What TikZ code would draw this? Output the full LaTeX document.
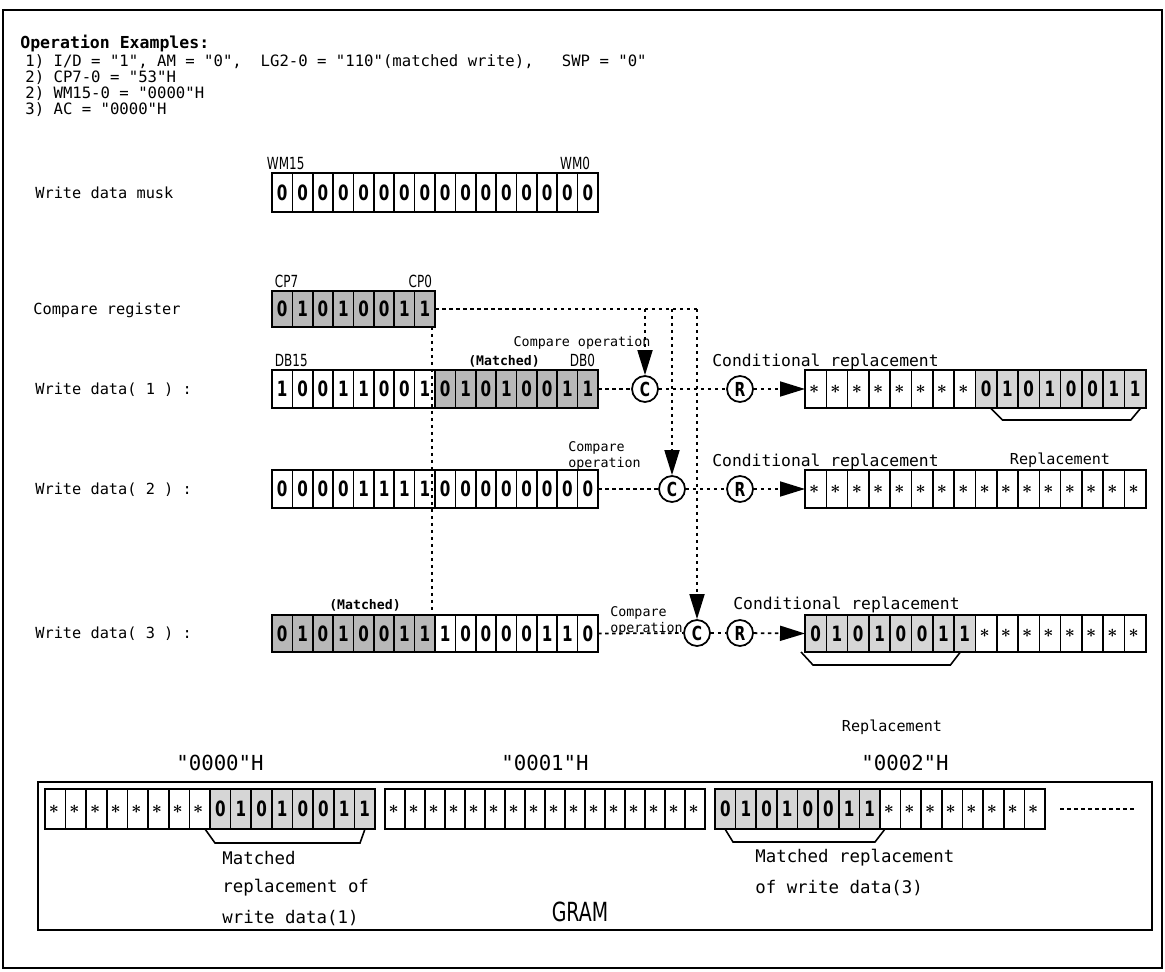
\documentclass[tikz,border=0pt]{standalone}
\usepackage{amsmath}
\usepackage{fontspec}
\setmonofont{DejaVu Sans Mono}
\newfontfamily\narrowfont{DejaVu Sans}[FakeStretch=0.72]
\usetikzlibrary{arrows.meta}
\colorlet{hatch}{black!28}
\colorlet{hatchlt}{black!16}
\newcommand{\astx}{\makebox[0.26cm][l]{\fontsize{10}{10}\selectfont$\boldsymbol{\ast}$}}
% one register row: name, x, y (top), cell width, cell height, bit/fill list
\newcommand{\regrow}[6]{%
  \foreach \bv/\fl [count=\k] in {#6}
    \node[cell,minimum width=#4*0.02cm,minimum height=#5*0.02cm,fill=\fl]
      (#1-\k) at ({#2+(\k-1)*#4},#3) {\bv};%
}
\tikzset{
  >={Triangle[length=0.5cm,width=0.3cm]},
  cell/.style={draw,line width=0.9pt,inner sep=0pt,outer sep=0pt,
    anchor=north west,font=\narrowfont\bfseries\fontsize{12}{12}\selectfont},
  frame/.style={line width=1.1pt},
  dotline/.style={line width=1pt,dash pattern=on 0.07cm off 0.07cm},
  opcirc/.style={circle,draw,line width=1pt,minimum size=0.52cm,inner sep=0pt,
    fill=white,font=\narrowfont\bfseries\fontsize{11}{11}\selectfont},
  titletxt/.style={anchor=west,inner sep=0pt,
    font=\ttfamily\bfseries\fontsize{9.4}{11}\selectfont},
  paramtxt/.style={anchor=west,inner sep=0pt,font=\ttfamily\fontsize{8.9}{11}\selectfont},
  rowlbl/.style={anchor=west,inner sep=0pt,font=\ttfamily\fontsize{8.7}{10}\selectfont},
  optxt/.style={inner sep=0pt,font=\ttfamily\fontsize{7.6}{9}\selectfont},
  condtxt/.style={anchor=west,inner sep=0pt,font=\ttfamily\fontsize{9.3}{11}\selectfont},
  repltxt/.style={inner sep=0pt,font=\ttfamily\fontsize{8.6}{10}\selectfont},
  matchtxt/.style={inner sep=0pt,font=\ttfamily\bfseries\fontsize{7.5}{9}\selectfont},
  bitlbl/.style={inner sep=1.5pt,font=\narrowfont\fontsize{9.5}{10}\selectfont},
  adrtxt/.style={inner sep=0pt,font=\ttfamily\fontsize{11.8}{13}\selectfont},
  notetxt/.style={anchor=west,inner sep=0pt,font=\ttfamily\fontsize{9.9}{12}\selectfont},
  gramtxt/.style={inner sep=0pt,font=\narrowfont\fontsize{15}{16}\selectfont},
  brk/.style={line width=0.9pt},
}
\begin{document}
\begin{tikzpicture}[x=0.02cm,y=-0.02cm]
  \useasboundingbox (0,0) rectangle (1165,972);
  \draw[frame] (3,10) rectangle (1162,968);

  % header
  \node[titletxt] (title) at (20,44) {Operation Examples:};
  \foreach \k/\lbl in {1/{1) I/D = "1", AM = "0",\ \ LG2-0 = "110"(matched write),\ \ \ SWP = "0"},
                       2/{2) CP7-0 = "53"H},
                       3/{2) WM15-0 = "0000"H},
                       4/{3) AC = "0000"H}}
    \node[paramtxt] (par\k) at (25,{46+16*\k}) {\lbl};

  % registers
  \regrow{wm}{272}{173}{20.375}{39}{0/white,0/white,0/white,0/white,0/white,0/white,0/white,0/white,
    0/white,0/white,0/white,0/white,0/white,0/white,0/white,0/white}
  \regrow{cp}{272}{291}{20.375}{36}{0/hatch,1/hatch,0/hatch,1/hatch,0/hatch,0/hatch,1/hatch,1/hatch}
  \regrow{wda}{272}{370}{20.375}{38}{1/white,0/white,0/white,1/white,1/white,0/white,0/white,1/white,
    0/hatch,1/hatch,0/hatch,1/hatch,0/hatch,0/hatch,1/hatch,1/hatch}
  \regrow{wdb}{272}{470}{20.375}{38}{0/white,0/white,0/white,0/white,1/white,1/white,1/white,1/white,
    0/white,0/white,0/white,0/white,0/white,0/white,0/white,0/white}
  \regrow{wdc}{272}{615}{20.375}{37}{0/hatch,1/hatch,0/hatch,1/hatch,0/hatch,0/hatch,1/hatch,1/hatch,
    1/white,0/white,0/white,0/white,0/white,1/white,1/white,0/white}
  \regrow{dsta}{805}{370}{21.3}{38}{\astx/white,\astx/white,\astx/white,\astx/white,\astx/white,
    \astx/white,\astx/white,\astx/white,0/hatchlt,1/hatchlt,0/hatchlt,1/hatchlt,0/hatchlt,
    0/hatchlt,1/hatchlt,1/hatchlt}
  \regrow{dstb}{805}{470}{21.3}{38}{\astx/white,\astx/white,\astx/white,\astx/white,\astx/white,
    \astx/white,\astx/white,\astx/white,\astx/white,\astx/white,\astx/white,\astx/white,
    \astx/white,\astx/white,\astx/white,\astx/white}
  \regrow{dstc}{805}{615}{21.3}{37}{0/hatchlt,1/hatchlt,0/hatchlt,1/hatchlt,0/hatchlt,0/hatchlt,
    1/hatchlt,1/hatchlt,\astx/white,\astx/white,\astx/white,\astx/white,\astx/white,
    \astx/white,\astx/white,\astx/white}

  % register labels
  \node[rowlbl] (lblwm) at (35,193) {Write data musk};
  \node[rowlbl] (lblcp) at (33,310) {Compare register};
  \node[rowlbl] (lblwda) at (35,390) {Write data( 1 ) :};
  \node[rowlbl] (lblwdb) at (35,490) {Write data( 2 ) :};
  \node[rowlbl] (lblwdc) at (35,634) {Write data( 3 ) :};
  \node[bitlbl,anchor=south west] (wmhi) at ([xshift=-0.16cm]wm-1.north west) {WM15};
  \node[bitlbl,anchor=south east] (wmlo) at ([xshift=-0.1cm]wm-16.north east) {WM0};
  \node[bitlbl,anchor=south west] (cphi) at (cp-1.north west) {CP7};
  \node[bitlbl,anchor=south east] (cplo) at (cp-8.north east) {CP0};
  \node[bitlbl,anchor=south west] (dbhi) at (wda-1.north west) {DB15};
  \node[bitlbl,anchor=south east] (dblo) at (wda-16.north east) {DB0};
  \node[matchtxt] (mtcha) at (504,361) {(Matched)};
  \node[matchtxt] (mtchc) at (365,605) {(Matched)};

  % compare / replace circles
  \node[opcirc] (ca) at (645,389) {C};
  \node[opcirc] (cb) at (672,489) {C};
  \node[opcirc] (cc) at (697,633) {C};
  \node[opcirc] (ra) at (740,389) {R};
  \node[opcirc] (rb) at (740,489) {R};
  \node[opcirc] (rc) at (740,633) {R};

  \node[optxt] (opa) at (582,343) {Compare operation};
  \node[optxt,anchor=west,align=left] (opb) at (568,456) {Compare\\operation};
  \node[optxt,anchor=west,align=left] (opc) at (610,621) {Compare\\operation};
  \node[condtxt] (conda) at (712,362) {Conditional replacement};
  \node[condtxt] (condb) at (712,462) {Conditional replacement};
  \node[condtxt] (condc) at (733,605) {Conditional replacement};
  \node[repltxt] (replb) at (1060,460) {Replacement};

  % dotted compare paths
  \coordinate (vtop) at ([xshift=-0.06cm]cp-8.south east);
  \draw[dotline] (cp-8.east) -- (cp-8.east -| cc.center);
  \draw[dotline,->] (cp-8.east -| ca.center) -- (ca.north);
  \draw[dotline,->] (cp-8.east -| cb.center) -- (cb.north);
  \draw[dotline,->] (cp-8.east -| cc.center) -- (cc.north);
  \draw[dotline] (vtop) -- (vtop |- wdc-8.north);
  \foreach \w/\c/\r/\d in {wda/ca/ra/dsta,wdb/cb/rb/dstb,wdc/cc/rc/dstc} {
    \draw[dotline] (\w-16.east) -- (\c);
    \draw[dotline] (\c) -- (\r);
    \draw[dotline,->] (\r) -- (\d-1.west);
  }
  \draw[brk] ([xshift=0.3cm]dsta-9.south west) -- ++(12,12)
    -- ([xshift=-0.3cm,yshift=-0.24cm]dsta-16.south east) -- ([xshift=-0.1cm]dsta-16.south east);
  \draw[brk] ([xshift=-0.08cm]dstc-1.south west) -- ++(12,13)
    -- ([xshift=-0.5cm,yshift=-0.26cm]dstc-8.south east) -- ([xshift=-0.3cm]dstc-8.south east);

  % GRAM
  \node[repltxt] (replc) at (892,727) {Replacement};
  \draw[frame] (38,782) rectangle (1152,930);
  \regrow{grama}{45}{789}{20.625}{40}{\astx/white,\astx/white,\astx/white,\astx/white,\astx/white,
    \astx/white,\astx/white,\astx/white,0/hatchlt,1/hatchlt,0/hatchlt,1/hatchlt,0/hatchlt,
    0/hatchlt,1/hatchlt,1/hatchlt}
  \regrow{gramb}{385}{789}{20}{40}{\astx/white,\astx/white,\astx/white,\astx/white,\astx/white,
    \astx/white,\astx/white,\astx/white,\astx/white,\astx/white,\astx/white,\astx/white,
    \astx/white,\astx/white,\astx/white,\astx/white}
  \regrow{gramc}{715}{789}{20.625}{40}{0/hatchlt,1/hatchlt,0/hatchlt,1/hatchlt,0/hatchlt,0/hatchlt,
    1/hatchlt,1/hatchlt,\astx/white,\astx/white,\astx/white,\astx/white,\astx/white,
    \astx/white,\astx/white,\astx/white}
  \node[adrtxt] (adra) at (220,763) {"0000"H};
  \node[adrtxt] (adrb) at (545,763) {"0001"H};
  \node[adrtxt] (adrc) at (905,763) {"0002"H};
  \coordinate (dotsa) at ([xshift=0.3cm]gramc-16.east);
  \coordinate (dotsb) at ([xshift=1.8cm]gramc-16.east);
  \draw[dotline] (dotsa) -- (dotsb);
  \draw[brk] ([xshift=-0.1cm]grama-9.south west) -- ++(10,14)
    -- ([xshift=-0.3cm,yshift=-0.28cm]grama-16.south east) -- ([xshift=-0.2cm]grama-16.south east);
  \draw[brk] ([xshift=0.2cm]gramc-1.south west) -- ++(8,13)
    -- ([xshift=-0.1cm,yshift=-0.26cm]gramc-8.south east) -- ([xshift=0.1cm]gramc-8.south east);
  \node[notetxt] (notea1) at (222,858) {Matched};
  \node[notetxt] (notea2) at (222,888) {replacement of};
  \node[notetxt] (notea3) at (222,918) {write data(1)};
  \node[notetxt] (notec1) at (755,858) {Matched replacement};
  \node[notetxt] (notec2) at (755,888) {of write data(3)};
  \node[gramtxt] (gram) at (580,912) {GRAM};
\end{tikzpicture}
\end{document}
